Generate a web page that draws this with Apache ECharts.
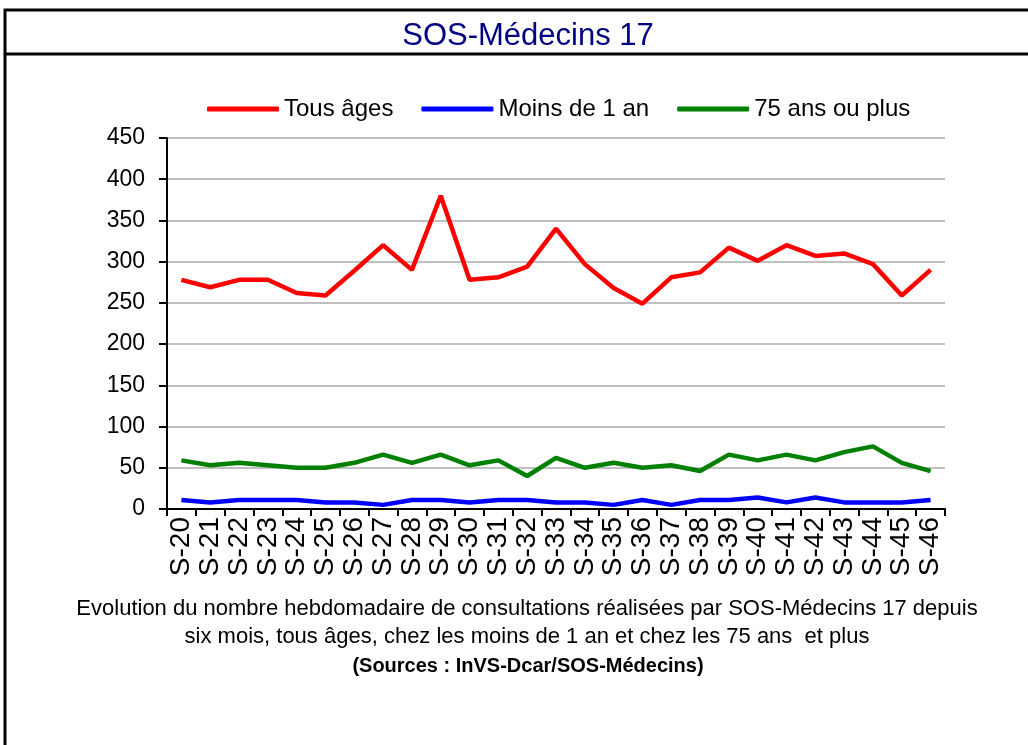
<!DOCTYPE html>
<html>
<head>
<meta charset="utf-8">
<script src="https://cdn.jsdelivr.net/npm/echarts@6/dist/echarts.min.js"></script>
<style>
  html, body { margin: 0; padding: 0; background: #fff; }
  #main { width: 1028px; height: 745px; }
</style>
</head>
<body>
<div id="main"></div>
<script>
var weeks = ['S-20','S-21','S-22','S-23','S-24','S-25','S-26','S-27','S-28','S-29','S-30','S-31','S-32','S-33',
             'S-34','S-35','S-36','S-37','S-38','S-39','S-40','S-41','S-42','S-43','S-44','S-45','S-46'];
var tousAges = [278, 269, 278, 278, 262, 259, 289, 320, 290, 380, 278, 281, 294, 340,
                297, 268, 249, 281, 287, 317, 301, 320, 307, 310, 297, 259, 290];
var moins1an = [11, 8, 11, 11, 11, 8, 8, 5, 11, 11, 8, 11, 11, 8,
                8, 5, 11, 5, 11, 11, 14, 8, 14, 8, 8, 8, 11];
var plus75 = [59, 53, 56, 53, 50, 50, 56, 66, 56, 66, 53, 59, 40, 62,
              50, 56, 50, 53, 46, 66, 59, 66, 59, 69, 76, 56, 46];
var yTicks = { min: 0, max: 450, interval: 50 };

var font = 'Liberation Sans, Arial, sans-serif';
var chartDom = document.getElementById('main');
var myChart = echarts.init(chartDom, null, { width: 1028, height: 745 });

function serie(name, data, color) {
    return {
        name: name,
        type: 'line',
        data: data,
        symbol: 'none',
        lineStyle: { color: color, width: 4.5 },
        itemStyle: { color: color },
        animation: false
    };
}

var option = {
    backgroundColor: '#fff',
    title: [
        {
            text: 'SOS-Médecins 17',
            left: 523,
            textAlign: 'center',
            top: 16,
            textStyle: { fontFamily: font, fontSize: 31, fontWeight: 'normal', color: '#000080' }
        },
        {
            text: 'Evolution du nombre hebdomadaire de consultations réalisées par SOS-Médecins 17 depuis\nsix mois, tous âges, chez les moins de 1 an et chez les 75 ans  et plus',
            left: 522,
            textAlign: 'center',
            top: 590,
            textStyle: { fontFamily: font, fontSize: 22, fontWeight: 'normal', color: '#000', lineHeight: 28 }
        },
        {
            text: '(Sources : InVS-Dcar/SOS-Médecins)',
            left: 523,
            textAlign: 'center',
            top: 651,
            textStyle: { fontFamily: font, fontSize: 20, fontWeight: 'bold', color: '#000' }
        }
    ],
    legend: {
        top: 92,
        left: 202,
        itemWidth: 72,
        itemHeight: 5,
        itemGap: 28,
        icon: 'roundRect',
        textStyle: { fontFamily: font, fontSize: 24, color: '#000' },
        data: ['Tous âges', 'Moins de 1 an', '75 ans ou plus']
    },
    grid: { left: 167, right: 83, top: 138, bottom: 236, containLabel: false },
    xAxis: {
        type: 'category',
        data: weeks,
        boundaryGap: true,
        axisLine: { lineStyle: { color: '#000', width: 2 } },
        axisTick: { show: true, length: 7, interval: 0, lineStyle: { color: '#000', width: 2 } },
        axisLabel: { interval: 0, rotate: 90, fontFamily: font, fontSize: 28, color: '#000', margin: 8 }
    },
    yAxis: {
        type: 'value',
        min: yTicks.min,
        max: yTicks.max,
        interval: yTicks.interval,
        axisLine: { show: true, lineStyle: { color: '#000', width: 2 } },
        axisTick: { show: true, length: 8, lineStyle: { color: '#000', width: 2 } },
        axisLabel: { fontFamily: font, fontSize: 23, color: '#000', margin: 22 },
        splitLine: { lineStyle: { color: '#c0c0c0', width: 2 } }
    },
    graphic: [
        {
            type: 'rect',
            shape: { x: 5, y: 10, width: 1100, height: 800 },
            style: { fill: 'none', stroke: '#000', lineWidth: 3 },
            silent: true
        },
        {
            type: 'line',
            shape: { x1: 5, y1: 54, x2: 1028, y2: 54 },
            style: { stroke: '#000', lineWidth: 3 },
            silent: true
        }
    ],
    series: [
        serie('Tous âges', tousAges, '#ff0000'),
        serie('Moins de 1 an', moins1an, '#0000ff'),
        serie('75 ans ou plus', plus75, '#008000')
    ]
};

myChart.setOption(option);
</script>
</body>
</html>
